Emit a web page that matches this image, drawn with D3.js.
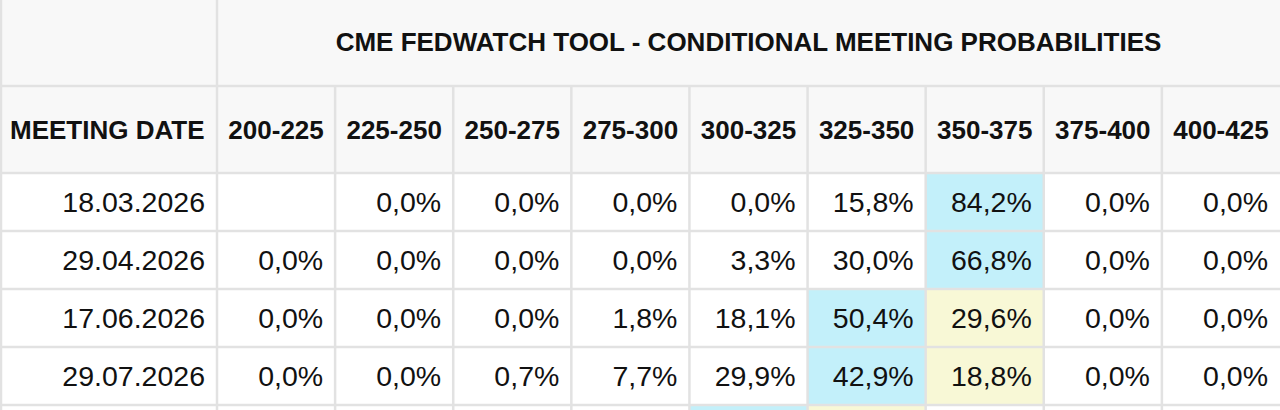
<!DOCTYPE html>
<html>
<head>
<meta charset="utf-8">
<script src="https://cdn.jsdelivr.net/npm/d3@7"></script>
<style>
  body { margin: 0; background: #fff; }
  svg { display: block; font-family: 'Liberation Sans', Arial, sans-serif; }
</style>
</head>
<body>
<svg></svg>
<script>
// Table contents
var title = 'CME FEDWATCH TOOL - CONDITIONAL MEETING PROBABILITIES';
var firstHeader = 'MEETING DATE';
var ranges = ['200-225', '225-250', '250-275', '275-300', '300-325', '325-350', '350-375', '375-400', '400-425'];
var dates = ['18.03.2026', '29.04.2026', '17.06.2026', '29.07.2026', ''];
var row1 = [null, 0.0, 0.0, 0.0, 0.0, 15.8, 84.2, 0.0, 0.0];
var row2 = [0.0, 0.0, 0.0, 0.0, 3.3, 30.0, 66.8, 0.0, 0.0];
var row3 = [0.0, 0.0, 0.0, 1.8, 18.1, 50.4, 29.6, 0.0, 0.0];
var row4 = [0.0, 0.0, 0.7, 7.7, 29.9, 42.9, 18.8, 0.0, 0.0];
var row5 = [null, null, null, null, null, null, null, null, null];
// 1 = highest probability (cyan), 2 = second (yellow)
var highlight1 = [0, 0, 0, 0, 0, 0, 1, 0, 0];
var highlight2 = [0, 0, 0, 0, 0, 0, 1, 0, 0];
var highlight3 = [0, 0, 0, 0, 0, 1, 2, 0, 0];
var highlight4 = [0, 0, 0, 0, 0, 1, 2, 0, 0];
var highlight5 = [0, 0, 0, 0, 1, 2, 0, 0, 0];

var rows = [row1, row2, row3, row4, row5];
var highlights = [highlight1, highlight2, highlight3, highlight4, highlight5];

var width = 1280, height = 410;
var firstColW = 217;
var titleH = 86, headH = 87, rowH = 58;
var colors = { 0: '#ffffff', 1: '#c3f0fa', 2: '#f8f8d6' };
var border = '#e2e2e2';
var headSize = 26, valSize = 28.5;

var svg = d3.select('svg').attr('width', width).attr('height', height);

var x = d3.scaleBand()
  .domain(ranges)
  .range([firstColW, width]);

var y = d3.scaleBand()
  .domain(d3.range(rows.length))
  .range([titleH + headH, titleH + headH + rowH * rows.length]);

var fmt = function (v) { return v === null ? '' : v.toFixed(1).replace('.', ',') + '%'; };

// Header backgrounds
svg.append('rect').attr('x', 0).attr('y', 0).attr('width', width).attr('height', titleH + headH)
  .attr('fill', '#f8f8f8');

// Data cells
rows.forEach(function (r, i) {
  var g = svg.append('g');
  g.append('rect')
    .attr('x', 0).attr('y', y(i)).attr('width', firstColW).attr('height', rowH)
    .attr('fill', '#fff');
  g.append('text')
    .attr('x', firstColW - 12).attr('y', y(i) + rowH / 2 + 10)
    .attr('text-anchor', 'end').attr('font-size', valSize).attr('fill', '#111')
    .text(dates[i]);
  g.selectAll('rect.cell').data(r).enter().append('rect')
    .attr('class', 'cell')
    .attr('x', function (d, j) { return x(ranges[j]); })
    .attr('y', y(i))
    .attr('width', x.bandwidth()).attr('height', rowH)
    .attr('fill', function (d, j) { return colors[highlights[i][j]]; });
  g.selectAll('text.val').data(r).enter().append('text')
    .attr('class', 'val')
    .attr('x', function (d, j) { return x(ranges[j]) + x.bandwidth() - 12; })
    .attr('y', y(i) + rowH / 2 + 10)
    .attr('text-anchor', 'end').attr('font-size', valSize).attr('fill', '#111')
    .text(fmt);
});

// Title
svg.append('text')
  .attr('x', (firstColW + width) / 2).attr('y', titleH / 2 + 8)
  .attr('text-anchor', 'middle').attr('font-size', headSize).attr('font-weight', 'bold').attr('fill', '#111')
  .text(title);

// Column headers
svg.append('text')
  .attr('x', 10).attr('y', titleH + headH / 2 + 9)
  .attr('font-size', headSize).attr('font-weight', 'bold').attr('fill', '#111')
  .text(firstHeader);
svg.selectAll('text.head').data(ranges).enter().append('text')
  .attr('class', 'head')
  .attr('x', function (d) { return x(d) + x.bandwidth() / 2; })
  .attr('y', titleH + headH / 2 + 9)
  .attr('text-anchor', 'middle').attr('font-size', headSize).attr('font-weight', 'bold').attr('fill', '#111')
  .text(function (d) { return d; });

// Grid lines
var lines = svg.append('g').attr('stroke', border).attr('stroke-width', 2.5);
lines.append('line').attr('x1', firstColW).attr('x2', firstColW).attr('y1', 0).attr('y2', height);
lines.append('line').attr('x1', 0).attr('x2', width).attr('y1', titleH).attr('y2', titleH);
lines.selectAll('line.v').data(ranges.slice(1)).enter().append('line')
  .attr('x1', function (d) { return x(d); }).attr('x2', function (d) { return x(d); })
  .attr('y1', titleH).attr('y2', height);
lines.selectAll('line.h').data(d3.range(rows.length)).enter().append('line')
  .attr('x1', 0).attr('x2', width)
  .attr('y1', function (d) { return y(d); }).attr('y2', function (d) { return y(d); });
lines.append('line').attr('x1', 1).attr('x2', 1).attr('y1', 0).attr('y2', height);
</script>
</body>
</html>
